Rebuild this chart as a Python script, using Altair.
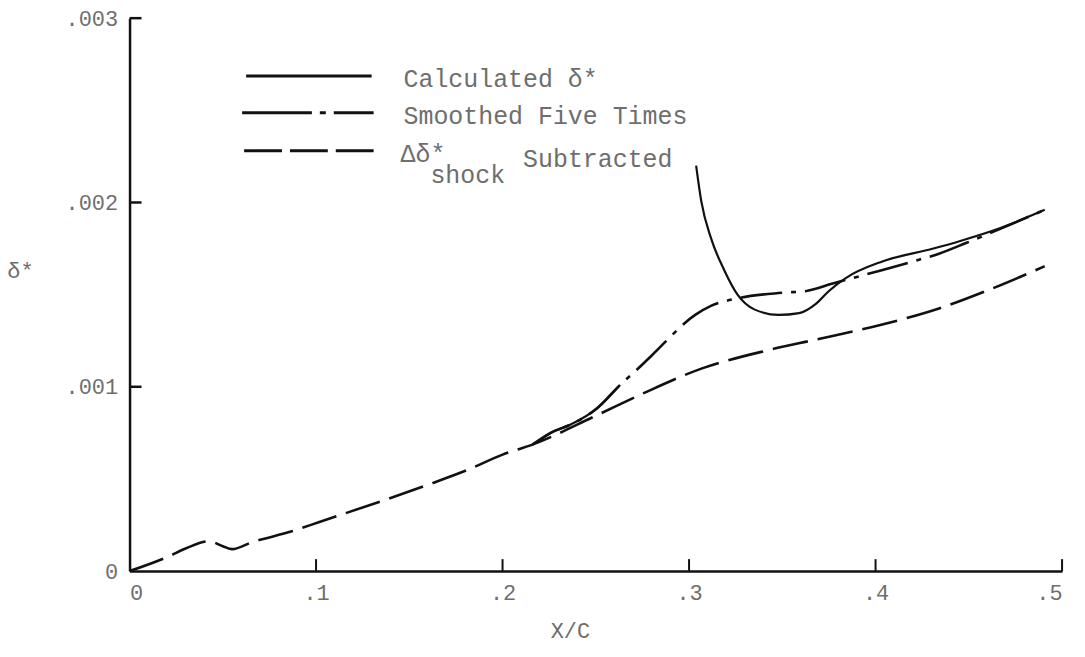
import altair as alt
import pandas as pd

# ---- data ----
# Delta delta* shock subtracted (dashed)
x_sub = [0, 0.021, 0.0304, 0.0427, 0.05, 0.055, 0.0657, 0.087, 0.1014, 0.159, 0.1815,
         0.2, 0.216, 0.249, 0.276, 0.307, 0.343, 0.368, 0.4036, 0.434, 0.463, 0.4907]
y_sub = [0, 0.00008, 0.000124, 0.000162, 0.000135, 0.000119, 0.000157, 0.000216, 0.000265,
         0.000465, 0.00055, 0.000632, 0.000686, 0.000838, 0.000967, 0.0011, 0.0012, 0.001256,
         0.001338, 0.001425, 0.001535, 0.001654]

# Smoothed five times (dash-dot)
x_smo = [0.216, 0.226, 0.2365, 0.251, 0.263, 0.2707, 0.28, 0.3033, 0.312, 0.326, 0.3497,
         0.363, 0.377, 0.42, 0.434, 0.4485, 0.4907]
y_smo = [0.000686, 0.000751, 0.000795, 0.000886, 0.00101, 0.00108, 0.00117, 0.00139, 0.00144,
         0.00148, 0.00151, 0.00152, 0.00156, 0.00168, 0.001722, 0.00178, 0.00196]

# Calculated delta* (solid), two visible pieces
x_calc_a = [0.218, 0.226, 0.2365, 0.251, 0.263]
y_calc_a = [0.000695, 0.000751, 0.000795, 0.000886, 0.00101]
x_calc_b = [0.3038, 0.3065, 0.312, 0.319, 0.326, 0.335, 0.348, 0.359, 0.368, 0.375, 0.384,
            0.4036, 0.431, 0.445, 0.4666, 0.4907]
y_calc_b = [0.0022, 0.00201, 0.0018, 0.00163, 0.0015, 0.00142, 0.00139, 0.0014, 0.00145,
            0.00152, 0.00159, 0.00168, 0.00175, 0.00179, 0.00186, 0.00196]

x_ticks = [0.1, 0.2, 0.3, 0.4, 0.5]
y_ticks = [0.001, 0.002, 0.003]

legend_labels = ["Calculated δ*", "Smoothed Five Times", "Δδ*", "shock", "Subtracted"]

FONT = "Liberation Mono"
TXT = "#6e6e6e"
INK = "#111111"
FS = 25

df_sub = pd.DataFrame({"x": x_sub, "y": y_sub})
df_smo = pd.DataFrame({"x": x_smo, "y": y_smo})
df_calc = pd.concat([
    pd.DataFrame({"x": x_calc_a, "y": y_calc_a, "seg": "a"}),
    pd.DataFrame({"x": x_calc_b, "y": y_calc_b, "seg": "b"}),
])

xscale = alt.Scale(domain=[0, 0.5], nice=False, zero=True)
yscale = alt.Scale(domain=[0, 0.003], nice=False, zero=True)

x_enc = alt.X("x:Q", scale=xscale, axis=alt.Axis(
    values=[0, 0.1, 0.2, 0.3, 0.4, 0.5],
    labelExpr="datum.value == 0 ? '0' : replace(format(datum.value, '.1f'), '0.', '.')",
    ticks=False, tickSize=0, grid=False, domainColor=INK, domainWidth=2.5,
    labelFont=FONT, labelFontSize=22, labelColor=TXT, labelPadding=12,
    title="X/C", titleFont=FONT, titleFontSize=22, titleColor=TXT, titleFontWeight="normal",
    titleX=442, titleY=60, titleBaseline="middle", titleAnchor="start", titleAlign="center"))
y_enc = alt.Y("y:Q", scale=yscale, axis=alt.Axis(
    values=[0, 0.001, 0.002, 0.003],
    labelExpr="datum.value == 0 ? '0' : replace(format(datum.value, '.3f'), '0.', '.')",
    ticks=False, tickSize=0, grid=False, domainColor=INK, domainWidth=2.5,
    labelFont=FONT, labelFontSize=22, labelColor=TXT, labelPadding=12,
    title="δ*", titleFont=FONT, titleFontSize=22, titleColor=TXT, titleFontWeight="normal",
    titleAngle=0, titleX=-110, titleY=253, titleBaseline="middle", titleAlign="center",
    titleAnchor="start"))

sub_line = alt.Chart(df_sub).mark_line(color=INK, strokeWidth=2.6, strokeDash=[36, 10],
                                       interpolate="monotone").encode(x=x_enc, y=y_enc)
smo_line = alt.Chart(df_smo).mark_line(color=INK, strokeWidth=2.6, strokeDash=[42, 9, 5, 9],
                                       interpolate="monotone").encode(x="x:Q", y="y:Q")
calc_line = alt.Chart(df_calc).mark_line(color=INK, strokeWidth=2.2,
                                         interpolate="monotone").encode(
    x="x:Q", y="y:Q", detail="seg:N")

xt = alt.Chart(pd.DataFrame({"t": x_ticks})).mark_rule(color=INK, strokeWidth=2).encode(
    x="t:Q", y=alt.value(555), y2=alt.value(543))
yt = alt.Chart(pd.DataFrame({"t": y_ticks})).mark_rule(color=INK, strokeWidth=2.5).encode(
    y="t:Q", x=alt.value(0), x2=alt.value(12))

# legend (drawn inside plot area)
leg_df = pd.DataFrame({"k": [0]})
base = alt.Chart(leg_df)
l1 = base.mark_rule(color=INK, strokeWidth=3).encode(
    x=alt.value(117), x2=alt.value(243), y=alt.value(58))
l2 = base.mark_rule(color=INK, strokeWidth=3, strokeDash=[70, 8, 6, 8]).encode(
    x=alt.value(113), x2=alt.value(245), y=alt.value(95))
l3 = base.mark_rule(color=INK, strokeWidth=3, strokeDash=[38, 8]).encode(
    x=alt.value(115), x2=alt.value(245), y=alt.value(133))

def txt(label, x, y):
    return alt.Chart(pd.DataFrame({"label": [label]})).mark_text(
        font=FONT, fontSize=FS, color=TXT, align="left", baseline="middle").encode(
        text="label:N", x=alt.value(x), y=alt.value(y))

t1 = txt(legend_labels[0], 275, 61)
t2 = txt(legend_labels[1], 275, 98)
t3 = txt(legend_labels[2], 272, 136)
t4 = txt(legend_labels[3], 302, 157)
t5 = txt(legend_labels[4], 395, 141)

chart = alt.layer(sub_line, smo_line, calc_line, xt, yt, l1, l2, l3, t1, t2, t3, t4, t5).properties(
    width=936, height=555,
    padding={"left": 122, "top": 9, "right": 15, "bottom": 80},
    autosize=alt.AutoSizeParams(type="none"),
    background="white",
).configure_view(stroke=None)

chart.save("out.html", embed_options={"renderer": "svg", "actions": False})
